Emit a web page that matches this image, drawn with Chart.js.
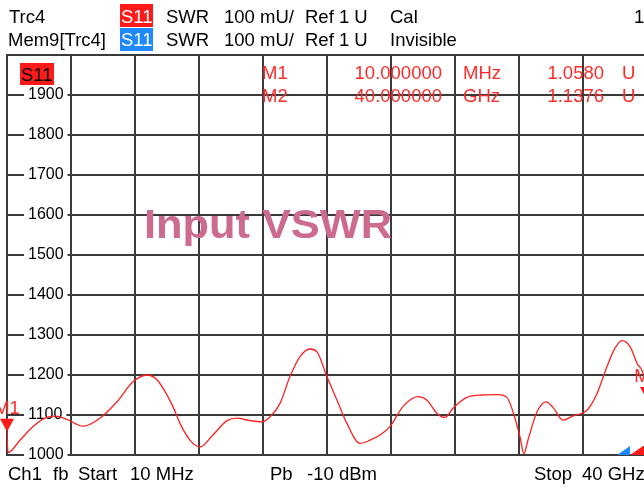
<!DOCTYPE html>
<html>
<head>
<meta charset="utf-8">
<script src="https://cdn.jsdelivr.net/npm/chart.js@4.4.0/dist/chart.umd.min.js"></script>
<style>
html, body { margin: 0; padding: 0; background: #fff; }
#wrap { width: 644px; height: 488px; overflow: hidden; position: relative; }
canvas { display: block; }
</style>
</head>
<body>
<div id="wrap"><canvas id="vna" width="660" height="488"></canvas></div>
<script>
// Trace S11 (SWR), frekuensi dalam GHz, nilai dalam mU
const freqGHz = [0.01, 0.07, 0.82, 1.64, 2.38, 3.01, 3.76, 4.76, 5.82, 6.88, 7.88, 8.76, 9.38,
    10.38, 10.82, 11.44, 12.07, 12.88, 13.76, 14.38, 15.19, 15.94, 16.44, 17.07, 17.69, 18.32,
    18.94, 19.38, 20.0, 20.63, 21.25, 22.06, 22.69, 23.32, 23.94, 24.75, 25.69, 26.25, 26.88,
    27.38, 27.88, 28.75, 29.75, 30.69, 31.25, 31.75, 32.06, 32.31, 32.56, 33.13, 33.69, 34.13,
    34.75, 35.38, 36.25, 36.88, 37.5, 38.0, 38.44, 38.94, 39.38, 39.81, 40.0];
const swrMilli = [1058, 1006, 1037, 1071, 1092, 1097, 1089, 1072, 1092, 1133, 1183, 1200, 1188,
    1121, 1079, 1037, 1020, 1050, 1086, 1092, 1086, 1083, 1095, 1129, 1196, 1246,
    1265, 1258, 1196, 1137, 1079, 1029, 1037, 1050, 1071, 1121, 1146, 1137, 1104,
    1094, 1117, 1144, 1150, 1151, 1144, 1092, 1046, 1003, 1037, 1108, 1133, 1119,
    1087, 1098, 1112, 1154, 1221, 1267, 1286, 1271, 1229, 1196, 1138];
const yTicks = [1000, 1100, 1200, 1300, 1400, 1500, 1600, 1700, 1800, 1900, 2000];

// Marker
const markerNames = ['M1', 'M2'];
const markerFreq = [0.01, 40];
const markerVal = [1058, 1137.6];
const markerFreqText = ['10.000000', '40.000000'];
const markerUnit = ['MHz', 'GHz'];
const markerValText = ['1.0580', '1.1376'];

const FONT = "'Liberation Sans', Arial, sans-serif";
const GRID = '#3a3a3a';
const TRACE = '#ff2020';

const overlay = {
    id: 'overlay',
    afterDraw(chart) {
        const c = chart.ctx;
        const xs = chart.scales.x;
        const ys = chart.scales.y;
        c.save();
        c.textBaseline = 'alphabetic';
        c.font = '18.5px ' + FONT;

        // Header
        c.fillStyle = '#ff1a1a';
        c.fillRect(120, 4, 33, 23);
        c.fillStyle = '#1e88ff';
        c.fillRect(120, 28, 33, 23);
        c.fillStyle = '#fff';
        c.textAlign = 'left';
        c.fillText('S11', 121, 23);
        c.fillText('S11', 121, 46);
        c.fillStyle = '#000';
        c.fillText('Trc4', 9, 23);
        c.fillText('SWR', 166, 23);
        c.fillText('100 mU/', 224, 23);
        c.fillText('Ref 1 U', 305, 23);
        c.fillText('Cal', 390, 23);
        c.fillText('1', 634, 23);
        c.fillText('Mem9[Trc4]', 8, 46);
        c.fillText('SWR', 166, 46);
        c.fillText('100 mU/', 224, 46);
        c.fillText('Ref 1 U', 305, 46);
        c.fillText('Invisible', 390, 46);

        // Kotak S11 di dalam plot
        c.fillStyle = '#ff1a1a';
        c.fillRect(20, 63, 34, 22);
        c.fillStyle = '#000';
        c.fillText('S11', 21, 81);

        // Tabel marker
        c.fillStyle = '#ff2b2b';
        markerNames.forEach((name, i) => {
            const base = 79 + i * 23;
            c.textAlign = 'left';
            c.fillText(name, 262, base);
            c.fillText(markerUnit[i], 463, base);
            c.fillText('U', 622, base);
            c.textAlign = 'right';
            c.fillText(markerFreqText[i], 442, base);
            c.fillText(markerValText[i], 604, base);
        });

        // Segitiga marker di trace
        c.textAlign = 'center';
        markerNames.forEach((name, i) => {
            const px = xs.getPixelForValue(markerFreq[i]);
            const py = ys.getPixelForValue(markerVal[i]);
            c.fillStyle = '#ff1a1a';
            c.beginPath();
            c.moveTo(px - 7, py - 13);
            c.lineTo(px + 7, py - 13);
            c.lineTo(px, py);
            c.closePath();
            c.fill();
            c.fillStyle = '#ff2b2b';
            c.fillText(name, px, py - 18);
        });

        // Judul
        c.font = 'bold 40px ' + FONT;
        c.fillStyle = '#cd6b8d';
        c.textAlign = 'left';
        const w = c.measureText('Input VSWR').width;
        c.save();
        c.translate(144, 238);
        c.scale(248 / w, 1);
        c.fillText('Input VSWR', 0, 0);
        c.restore();

        // Footer
        c.font = '18.5px ' + FONT;
        c.fillStyle = '#000';
        c.fillText('Ch1', 8, 480);
        c.fillText('fb', 53, 480);
        c.fillText('Start', 78, 480);
        c.fillText('10 MHz', 130, 480);
        c.fillText('Pb', 270, 480);
        c.fillText('-10 dBm', 307, 480);
        c.fillText('Stop', 534, 480);
        c.fillText('40 GHz', 582, 480);

        // Indikator kecil kanan bawah
        c.fillStyle = '#1e88ff';
        c.beginPath();
        c.moveTo(617, 455); c.lineTo(630, 446); c.lineTo(630, 455); c.closePath();
        c.fill();
        c.fillStyle = '#ff1a1a';
        c.beginPath();
        c.moveTo(630, 455); c.lineTo(646, 444); c.lineTo(646, 455); c.closePath();
        c.fill();
        c.restore();
    }
};

const ctx = document.getElementById('vna').getContext('2d');
new Chart(ctx, {
    type: 'line',
    data: {
        datasets: [{
            data: freqGHz.map((f, i) => ({ x: f, y: swrMilli[i] })),
            borderColor: TRACE,
            borderWidth: 1.3,
            pointRadius: 0,
            cubicInterpolationMode: 'monotone'
        }]
    },
    options: {
        responsive: false,
        animation: false,
        devicePixelRatio: 1,
        layout: { padding: { left: 7, top: 55, right: 13, bottom: 33 } },
        plugins: {
            legend: { display: false },
            tooltip: { enabled: false }
        },
        scales: {
            x: {
                type: 'linear',
                min: 0.01,
                max: 40,
                afterBuildTicks: s => {
                    const step = (40 - 0.01) / 10;
                    s.ticks = [];
                    for (let k = 0; k <= 10; k++) s.ticks.push({ value: 0.01 + k * step });
                },
                afterFit: s => { s.height = 0; },
                ticks: { display: false },
                grid: { color: GRID, lineWidth: 2, drawTicks: false },
                border: { color: GRID, width: 2 }
            },
            y: {
                min: 1000,
                max: 2000,
                afterBuildTicks: s => { s.ticks = yTicks.map(v => ({ value: v })); },
                afterFit: s => { s.width = 0; },
                ticks: {
                    mirror: true,
                    padding: 21,
                    color: '#000',
                    font: { family: FONT, size: 16 },
                    showLabelBackdrop: true,
                    backdropColor: c => (c.tick && c.tick.value === 2000) ? 'rgba(0,0,0,0)' : '#fff',
                    backdropPadding: { x: 4, y: 0 },
                    callback: v => v === 2000 ? '' : String(v)
                },
                grid: { color: GRID, lineWidth: 2, drawTicks: false },
                border: { color: GRID, width: 2 }
            }
        }
    },
    plugins: [overlay]
});
</script>
</body>
</html>
